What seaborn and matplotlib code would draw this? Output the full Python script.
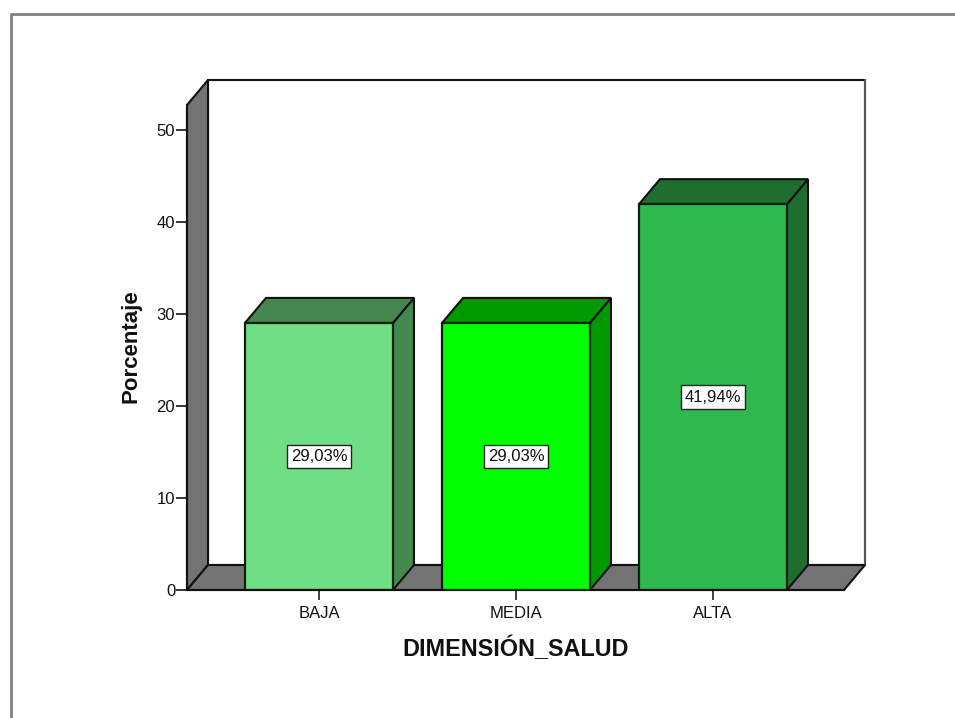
import matplotlib
matplotlib.use('Agg')
import matplotlib.pyplot as plt
from matplotlib.patches import Polygon, Rectangle
import pandas as pd
import seaborn as sns

categorias = ['BAJA', 'MEDIA', 'ALTA']
porcentajes = [29.03, 29.03, 41.94]
etiquetas = ['29,03%', '29,03%', '41,94%']
colores = ['#70DE85', '#00FF00', '#2EB84D']
colores_lado = ['#45884F', '#009900', '#1E6E30']
colores_tapa = ['#45884F', '#009900', '#1E6E30']
ticks_y = [0, 10, 20, 30, 40, 50]

sns.set_theme(style='white')
plt.rcParams['font.family'] = ['Liberation Sans', 'DejaVu Sans']

W, H = 955, 718
fig = plt.figure(figsize=(W / 100, H / 100), dpi=100, facecolor='white')
ax = fig.add_axes([187 / W, 1 - 590 / H, (844 - 187) / W, (590 - 105) / H])

df = pd.DataFrame({'cat': categorias, 'pct': porcentajes})
sns.barplot(data=df, x='cat', y='pct', hue='cat', palette=colores, legend=False,
            width=0.751, saturation=1, edgecolor='#102010', linewidth=1.6, ax=ax, zorder=5)

ax.set_xlim(-0.67, 2.665)
ax.set_ylim(0, 485 / 9.2)

# profundidad del efecto 3D en unidades de datos
dx = 21 / 197
dy = 25 / 9.2
xmin, xmax = ax.get_xlim()
ymax = ax.get_ylim()[1]
borde = '#111111'
gris = '#737373'


def cara(puntos, color, z=1, linea=borde):
    ax.add_patch(Polygon(puntos, closed=True, facecolor=color, edgecolor=linea,
                         linewidth=1.5, clip_on=False, zorder=z))


# paredes del fondo
cara([(xmin + dx, dy), (xmax + dx, dy), (xmax + dx, ymax + dy), (xmin + dx, ymax + dy)], 'white')
ax.plot([xmax + dx, xmax + dx], [dy, ymax + dy], color='#555555', linewidth=1.5, clip_on=False, zorder=2)
cara([(xmin, 0), (xmin + dx, dy), (xmin + dx, ymax + dy), (xmin, ymax)], gris, 3)
cara([(xmin, 0), (xmax, 0), (xmax + dx, dy), (xmin + dx, dy)], gris, 3)

# lados y tapas de las barras
for i, barra in enumerate(ax.patches):
    if not isinstance(barra, Rectangle) or i >= len(porcentajes):
        continue
    x0 = barra.get_x()
    x1 = x0 + barra.get_width()
    v = barra.get_height()
    cara([(x1, 0), (x1 + dx, dy), (x1 + dx, v + dy), (x1, v)], colores_lado[i], 4)
    cara([(x0, v), (x1, v), (x1 + dx, v + dy), (x0 + dx, v + dy)], colores_tapa[i], 4)
    ax.text(i, v / 2, etiquetas[i], ha='center', va='center', fontsize=12, color='#111111', zorder=7,
            bbox=dict(boxstyle='square,pad=0.25', facecolor='white', edgecolor='#222222', linewidth=1.0))

for lado in ['top', 'right']:
    ax.spines[lado].set_visible(False)
for lado in ['left', 'bottom']:
    ax.spines[lado].set_color(borde)
    ax.spines[lado].set_linewidth(1.5)
    ax.spines[lado].set_zorder(6)

ax.patch.set_alpha(0)
ax.set_yticks(ticks_y)
ax.tick_params(axis='y', left=True, length=8, width=1.3, color='#222222', labelsize=12, pad=0.5, labelcolor='#111111')
ax.tick_params(axis='x', bottom=True, length=7, width=1.3, color='#333333', labelsize=12, pad=4.5, labelcolor='#111111')
ax.set_xlabel('DIMENSIÓN_SALUD', fontsize=16.8, fontweight='bold', color='#111111', labelpad=11)
ax.set_ylabel('Porcentaje', fontsize=16, fontweight='bold', color='#111111', labelpad=10.5, y=0.503)

# marco de la ventana de resultados
fig.add_artist(plt.Line2D([11 / W, 11 / W, 1], [0, 1 - 14 / H, 1 - 14 / H], color='#808080', linewidth=2))

fig.savefig('out.png', dpi=100)
